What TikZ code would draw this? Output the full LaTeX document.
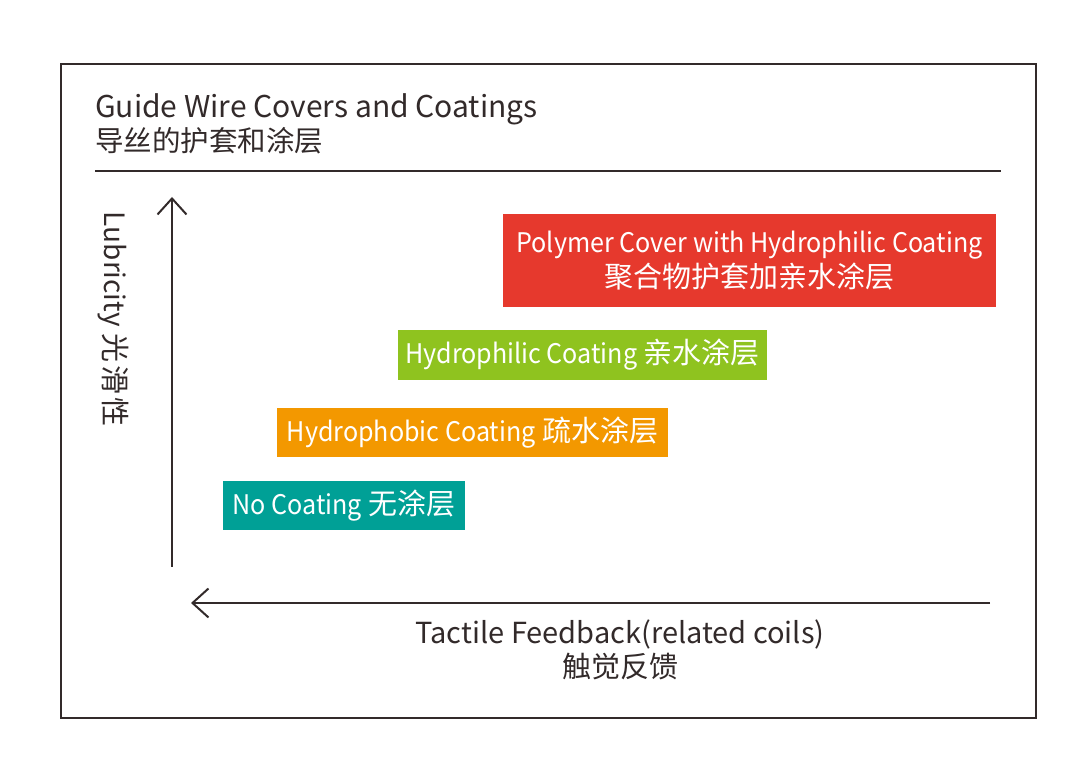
\documentclass[tikz,border=0pt]{standalone}
\usepackage{fontspec}
\setmainfont{Noto Sans CJK SC}
\newfontfamily\narrowlatin[FakeStretch=0.93]{Noto Sans CJK SC}
\newcommand{\coatlatin}[1]{{\narrowlatin\fontsize{27}{36}\selectfont #1}}
\usepackage{tikz}
\usetikzlibrary{positioning}
\usetikzlibrary{arrows.meta}

\definecolor{inkdark}{RGB}{50,42,42}
\definecolor{coatred}{RGB}{230,57,45}
\definecolor{coatgreen}{RGB}{143,195,31}
\definecolor{coatorange}{RGB}{243,152,0}
\definecolor{coatteal}{RGB}{0,160,150}

\tikzset{
  label/.style          = { text=inkdark, inner sep=0pt, font=\fontsize{29}{35}\selectfont },
  coat/.style           = { rectangle, inner sep=0pt, text=white, align=center,
                            font=\fontsize{29}{35}\selectfont },
  frame/.style          = { draw=inkdark, line width=1.5pt },
  axis/.style           = { draw=inkdark, line width=2pt,
                            -{Straight Barb[length=16pt,width=29pt,line width=2pt]} },
}

\begin{document}
\begin{tikzpicture}[x=1pt, y=1pt]
  \useasboundingbox (0,0) rectangle (1080,765);
  \draw [frame] (61,47) rectangle (1036,701);

  % title
  \node (title)    [label,anchor=base west,font=\fontsize{30}{36}\selectfont]
        at (95,647) {Guide Wire Covers and Coatings};
  \node (subtitle) [label,anchor=base west,font=\fontsize{28.5}{36}\selectfont]
        at (95,613) {导丝的护套和涂层};
  \coordinate (ruleL) at (95,594);
  \coordinate (ruleR) at (1001,594);
  \draw [frame] (ruleL) -- (ruleR);

  % axes
  \coordinate (yfoot) at (172,198);
  \coordinate (ytip)  at (172,568);
  \coordinate (xfoot) at (990,162);
  \coordinate (xtip)  at (191,162);
  \draw [axis] (yfoot) -- (ytip);
  \draw [axis] (xfoot) -- (xtip);
  \node (ylabel)  [label,rotate=-90] at (113,446)
        {{\fontsize{28}{35}\selectfont Lubricity} 光\hspace{3pt}滑\hspace{3pt}性};
  \node (xlabel)  [label,anchor=base] at (620,121) {Tactile Feedback(related coils)};
  \node (xlabel2) [label,anchor=base] at (620,87)  {触觉反馈};

  % coatings
  \node (polymer)     [coat,fill=coatred,minimum width=493pt,minimum height=93pt]
        at (749.5,504.5) {\coatlatin{Polymer Cover with Hydrophilic Coating}\\聚合物护套加亲水涂层};
  \node (hydrophilic) [coat,fill=coatgreen,minimum width=369pt,minimum height=50pt]
        at (582.5,410) {\coatlatin{Hydrophilic Coating} 亲水涂层};
  \node (hydrophobic) [coat,fill=coatorange,minimum width=391pt,minimum height=49pt]
        at (472.5,332.5) {\coatlatin{Hydrophobic Coating} 疏水涂层};
  \node (nocoat)      [coat,fill=coatteal,minimum width=242pt,minimum height=49pt]
        at (344,259.5) {\coatlatin{No Coating} 无涂层};
\end{tikzpicture}
\end{document}
